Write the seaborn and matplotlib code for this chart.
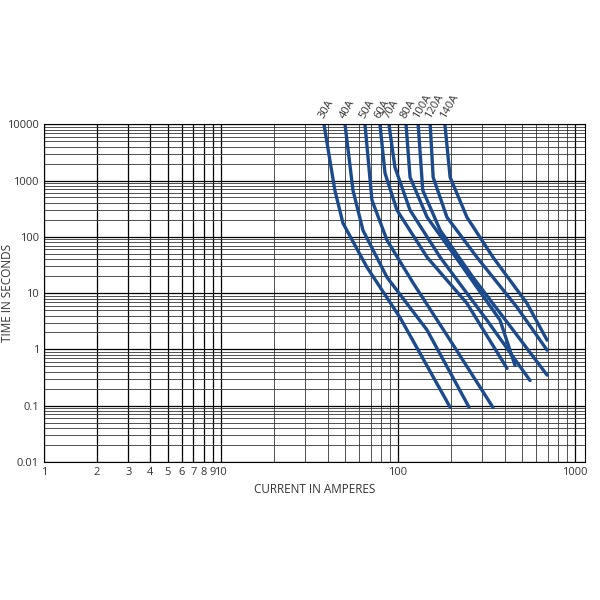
import matplotlib
matplotlib.use("Agg")
import matplotlib.pyplot as plt
import seaborn as sns
import pandas as pd
import numpy as np
from matplotlib.ticker import FixedLocator, NullFormatter

sns.set_style("white")
plt.rcParams['font.family'] = ['Open Sans', 'DejaVu Sans']

ratings = ["30A", "40A", "50A", "60A", "70A", "80A", "100A", "120A", "140A"]
cur = {
    "30A": [38.2, 44, 48.9, 66.8, 102.6, 197],
    "40A": [50.2, 55.7, 63.4, 86.7, 146, 252],
    "50A": [65.1, 71.3, 86.7, 122, 197, 344],
    "60A": [79.1, 84.5, 98.7, 146, 245, 413],
    "70A": [88.9, 96.1, 117, 173, 318, 557],
    "80A": [111, 117, 146, 224, 377, 458],
    "100A": [130, 138, 173, 265, 447, 695],
    "120A": [152, 158, 189, 279, 470, 695],
    "140A": [184, 197, 245, 344, 535, 695],
}
tim = {
    "30A": [10000, 673, 175, 28.8, 3.7, 0.094],
    "40A": [10000, 673, 131, 19.1, 2.2, 0.094],
    "50A": [10000, 447, 87, 15, 1.46, 0.093],
    "60A": [10000, 1349, 297, 43.4, 6.6, 0.46],
    "70A": [10000, 1722, 297, 43.4, 3.3, 0.28],
    "80A": [10000, 1145, 223, 34, 3.3, 0.52],
    "100A": [10000, 673, 131, 19.1, 2.2, 0.35],
    "120A": [10000, 1145, 223, 43.4, 5.6, 0.97],
    "140A": [10000, 1145, 223, 43.4, 6.6, 1.46],
}
rows = []
for r in ratings:
    for c, t in zip(cur[r], tim[r]):
        rows.append((r, c, t))
df = pd.DataFrame(rows, columns=["rating", "current", "time"])

fig = plt.figure(figsize=(6, 6), dpi=100)
ax = fig.add_axes([0.073, 0.23, 0.902, 0.563])
ax.set_xscale("log"); ax.set_yscale("log")
ax.set_xlim(1, 1138); ax.set_ylim(0.01, 10000)

xminor = [m * 10**d for d in range(0, 4) for m in range(2, 10) if m * 10**d < 1138]
ax.xaxis.set_minor_locator(FixedLocator(xminor))
ax.yaxis.set_minor_locator(FixedLocator([m * 10.0**d for d in range(-2, 4) for m in range(2, 10)]))
ax.grid(True, which="major", color="black", lw=0.9)
ax.grid(True, which="minor", color="#333333", lw=0.6)
ax.tick_params(which="both", length=0, labelsize=8, colors="#333333")

for r in ratings:
    d = df[df.rating == r]
    sns.lineplot(data=d, x="current", y="time", ax=ax, color="#1b4b8c", lw=2.4,
                 estimator=None, sort=False, legend=False)
    ax.text(cur[r][0] * 1.03, 11500, r, rotation=60, fontsize=8, color="#333333",
            ha="left", va="bottom", rotation_mode="anchor")

xt = [1, 2, 3, 4, 5, 6, 7, 8, 9, 10, 100, 1000]
ax.xaxis.set_major_locator(FixedLocator(xt))
ax.xaxis.set_minor_formatter(NullFormatter())
ax.set_xticklabels(["1", "2", "3", "4", "5", "6", "7", "8", "9", "10", "100", "1000"])
ax.set_yticks([0.01, 0.1, 1, 10, 100, 1000, 10000])
ax.set_yticklabels(["0.01", "0.1", "1", "10", "100", "1000", "10000"])
ax.yaxis.set_minor_formatter(NullFormatter())
ax.set_xlabel("CURRENT IN AMPERES", fontsize=8.5, color="#333333")
ax.set_ylabel("TIME IN SECONDS", fontsize=8.5, color="#333333")
ax.yaxis.set_label_coords(-0.055, 0.5)
for s in ax.spines.values():
    s.set_color("black")
fig.savefig("out.png", dpi=100)
